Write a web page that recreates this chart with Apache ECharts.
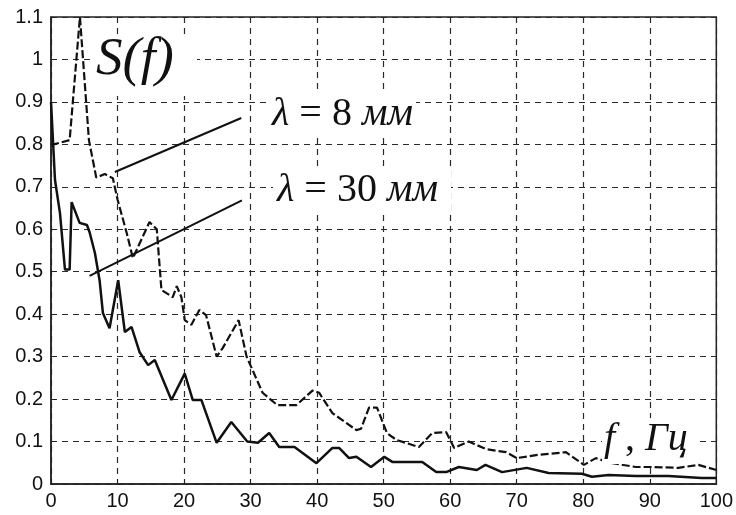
<!DOCTYPE html>
<html>
<head>
<meta charset="utf-8">
<script src="https://cdn.jsdelivr.net/npm/echarts@6/dist/echarts.min.js"></script>
<style>
html,body{margin:0;padding:0;background:#fff;}
#chart{width:736px;height:515px;}
</style>
</head>
<body>
<div id="chart"></div>
<script>
// λ = 8 мм (dashed)
const lam8X = [0, 0.4, 2.8, 4.35, 5.7, 6.8, 8.1, 9.3, 10, 11.4, 12.3, 14.8, 15.9, 16.6, 18.3, 18.9, 19.6, 20.1, 21.1, 22.3, 23.3, 24.9, 25.8, 28.2, 29.4, 31.8, 34, 36.9, 39.3, 40.3, 42.3, 45.9, 46.6, 47.8, 49, 50.5, 51.9, 55.3, 57.3, 59.4, 60.6, 62.8, 65.4, 68.4, 70, 72.9, 77.4, 80.1, 81.9, 84, 87.9, 90.3, 94.3, 97.3, 100];
const lam8Y = [0.8, 0.8, 0.81, 1.1, 0.81, 0.722, 0.73, 0.72, 0.67, 0.59, 0.532, 0.617, 0.6, 0.457, 0.44, 0.466, 0.44, 0.386, 0.375, 0.41, 0.398, 0.30, 0.32, 0.386, 0.30, 0.215, 0.186, 0.186, 0.22, 0.215, 0.167, 0.127, 0.13, 0.18, 0.18, 0.12, 0.104, 0.087, 0.12, 0.122, 0.085, 0.10, 0.082, 0.075, 0.061, 0.068, 0.075, 0.045, 0.061, 0.05, 0.04, 0.04, 0.038, 0.045, 0.033];
// λ = 30 мм (solid)
const lam30X = [0, 0.6, 1.35, 2.1, 2.8, 3.1, 4.3, 5.4, 5.8, 6.6, 7.3, 7.8, 8.8, 10.1, 11.1, 12.1, 13.3, 14.6, 15.6, 18.1, 20.1, 21.3, 22.6, 24.9, 27.1, 29.5, 31.1, 32.8, 34.3, 36.6, 39.9, 42.3, 43.3, 44.8, 45.9, 48.1, 50.1, 51.3, 55.8, 57.9, 59.4, 61.3, 64, 65.3, 67.8, 71.5, 74.8, 79.8, 81.3, 83.8, 87.9, 92.8, 97.8, 100];
const lam30Y = [0.9, 0.716, 0.638, 0.505, 0.505, 0.664, 0.615, 0.61, 0.593, 0.544, 0.48, 0.403, 0.367, 0.48, 0.358, 0.37, 0.311, 0.28, 0.292, 0.198, 0.26, 0.198, 0.198, 0.097, 0.146, 0.1, 0.097, 0.12, 0.087, 0.087, 0.049, 0.085, 0.085, 0.061, 0.064, 0.04, 0.064, 0.052, 0.052, 0.028, 0.028, 0.04, 0.033, 0.045, 0.028, 0.038, 0.026, 0.024, 0.017, 0.021, 0.019, 0.019, 0.014, 0.014];
// pointer lines for the labels (data coordinates)
const pointer8 = [[9.6, 0.735], [28.6, 0.862]];
const pointer30 = [[5.8, 0.49], [28.7, 0.668]];
// axes
const xMin = 0, xMax = 100, xStep = 10;
const yMin = 0, yMax = 1.1, yStep = 0.1;

const zip = (xs, ys) => xs.map((x, i) => [x, ys[i]]);
const chart = echarts.init(document.getElementById('chart'), null, {renderer: 'canvas'});
const gridStyle = {type: [6, 5], color: '#2a2a2a', width: 1.2};
const labelStyle = {color: '#111', fontFamily: 'Liberation Sans', fontSize: 20};
const serifI = {fontFamily: 'Liberation Serif', fontStyle: 'italic', fontSize: 40, fill: '#111'};
const serifN = {fontFamily: 'Liberation Serif', fontSize: 40, fill: '#111'};
function box(x, y, w, h) {
  return {type: 'rect', z: 50, silent: true, shape: {x: x, y: y, width: w, height: h}, style: {fill: '#fff'}};
}
chart.setOption({
  animation: false,
  backgroundColor: '#fff',
  grid: {left: 51, right: 18, top: 17, bottom: 31, show: true, borderColor: '#222', borderWidth: 1.5, backgroundColor: 'transparent'},
  xAxis: {
    type: 'value', min: xMin, max: xMax, interval: xStep,
    axisLine: {show: true, lineStyle: {color: '#222', width: 1.5}},
    axisTick: {show: true, inside: true, length: 5, lineStyle: {color: '#222'}},
    axisLabel: Object.assign({margin: 7}, labelStyle),
    splitLine: {show: true, lineStyle: gridStyle}
  },
  yAxis: {
    type: 'value', min: yMin, max: yMax, interval: yStep,
    axisLine: {show: true, lineStyle: {color: '#222', width: 1.5}},
    axisTick: {show: true, inside: true, length: 5, lineStyle: {color: '#222'}},
    axisLabel: Object.assign({margin: 8}, labelStyle),
    splitLine: {show: true, lineStyle: gridStyle}
  },
  series: [
    {
      type: 'line', data: zip(lam8X, lam8Y), symbol: 'none',
      lineStyle: {color: '#111', width: 2.2, type: [8, 3]},
      markLine: {
        silent: true, symbol: 'none', label: {show: false},
        lineStyle: {color: '#111', width: 2, type: 'solid'},
        data: [[{coord: pointer8[0]}, {coord: pointer8[1]}]]
      }
    },
    {
      type: 'line', data: zip(lam30X, lam30Y), symbol: 'none',
      lineStyle: {color: '#111', width: 2.5, type: 'solid'},
      markLine: {
        silent: true, symbol: 'none', label: {show: false},
        lineStyle: {color: '#111', width: 2, type: 'solid'},
        data: [[{coord: pointer30[0]}, {coord: pointer30[1]}]]
      }
    }
  ],
  graphic: [
    box(90, 34, 107, 62),
    box(270, 90, 146, 48),
    box(273, 168, 178, 42),
    box(602, 418, 93, 46),
    {
      type: 'text', left: 96, top: 33, z: 60,
      style: {
        text: '{i|S}{p|(}{i|f}{p|)}',
        rich: {
          i: {fontFamily: 'Liberation Serif', fontStyle: 'italic', fontSize: 53, fill: '#111'},
          p: {fontFamily: 'Liberation Serif', fontStyle: 'italic', fontSize: 55, fill: '#111'}
        }
      }
    },
    {
      type: 'text', left: 272, top: 94, z: 60,
      style: {text: '{i|λ}{n| = 8 }{i|мм}', rich: {i: serifI, n: serifN}}
    },
    {
      type: 'text', left: 277, top: 170, z: 60,
      style: {text: '{i|λ}{n| = 30 }{i|мм}', rich: {i: serifI, n: serifN}}
    },
    {
      type: 'text', left: 604, top: 419, z: 60,
      style: {text: '{i|f}{n| , }{i|Гц}', rich: {i: serifI, n: serifN}}
    }
  ]
});
</script>
</body>
</html>
